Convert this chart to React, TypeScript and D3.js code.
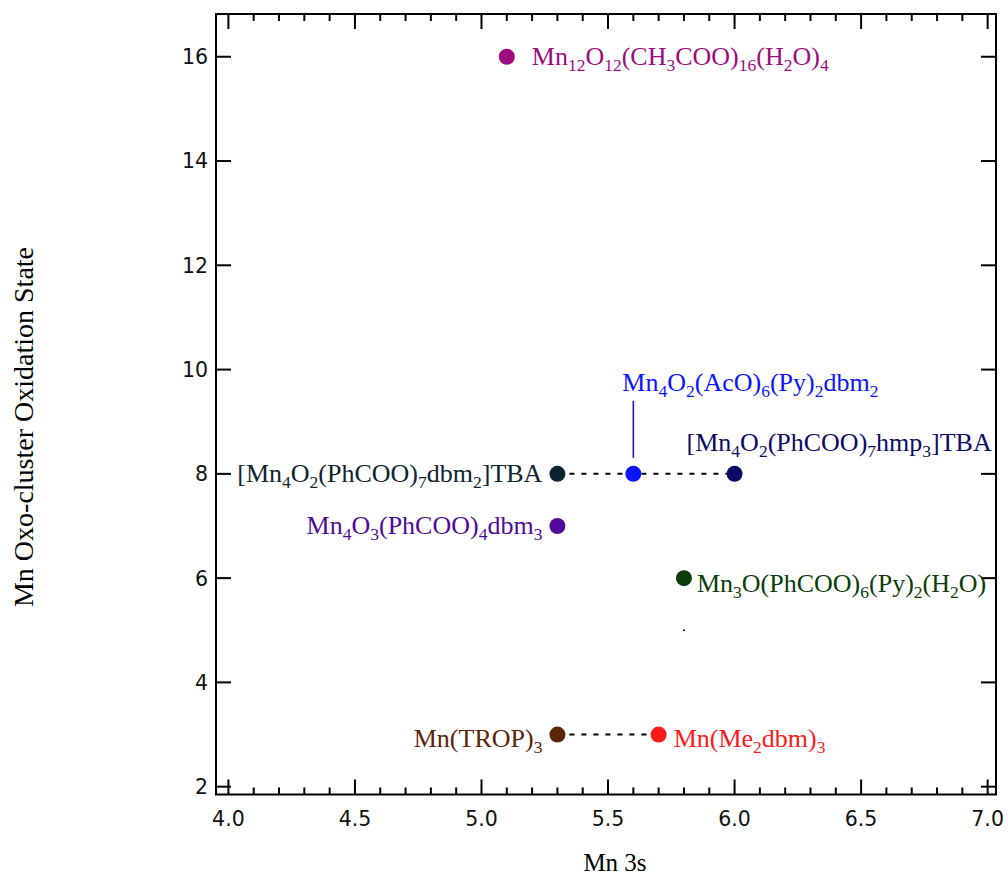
import React from 'react';
import * as d3 from 'd3';

// Mn 3s splitting vs. cluster oxidation state
const compounds = [
  'Mn_12O_12(CH_3COO)_16(H_2O)_4',
  'Mn_4O_2(AcO)_6(Py)_2dbm_2',
  '[Mn_4O_2(PhCOO)_7hmp_3]TBA',
  '[Mn_4O_2(PhCOO)_7dbm_2]TBA',
  'Mn_4O_3(PhCOO)_4dbm_3',
  'Mn_3O(PhCOO)_6(Py)_2(H_2O)',
  'Mn(TROP)_3',
  'Mn(Me_2dbm)_3',
];
const mn3s = [5.1, 5.6, 6.0, 5.3, 5.3, 5.8, 5.3, 5.7];
const oxState = [16, 8, 8, 8, 7, 6, 3, 3];
const colors = ['#9c0c7e', '#0a14ff', '#0b0b66', '#0d2430', '#52099a', '#0b3d0b', '#5e2408', '#ff1a1a'];

// dashed connectors: pairs of compound indices
const links = [[3, 2], [6, 7]];
// stray dot seen on the plot
const strayDot = [5.8, 5.0];

const xMajor = [4.0, 4.5, 5.0, 5.5, 6.0, 6.5, 7.0];
const yMajor = [2, 4, 6, 8, 10, 12, 14, 16];

// label placement relative to each marker
const labelPos = [
  { dx: 25, dy: 8, anchor: 'start' },
  { dx: -11, dy: -83, anchor: 'start' },
  { dx: -48, dy: -23, anchor: 'start' },
  { dx: -15, dy: 8, anchor: 'end' },
  { dx: -15, dy: 8, anchor: 'end' },
  { dx: 13, dy: 14, anchor: 'start' },
  { dx: -15, dy: 12, anchor: 'end' },
  { dx: 15, dy: 12, anchor: 'start' },
];

const W = 1008, H = 877;
const box = { left: 216, right: 996, top: 14, bottom: 794.5 };

function parseFormula(s: string) {
  const parts: { t: string; sub: boolean }[] = [];
  const re = /_(\d+)/g;
  let last = 0;
  let m;
  while ((m = re.exec(s)) !== null) {
    if (m.index > last) parts.push({ t: s.slice(last, m.index), sub: false });
    parts.push({ t: m[1], sub: true });
    last = m.index + m[0].length;
  }
  if (last < s.length) parts.push({ t: s.slice(last), sub: false });
  return parts;
}

function Formula({ text }: { text: string }) {
  const parts = parseFormula(text);
  let prevSub = false;
  return (
    <>
      {parts.map((p, i) => {
        let dy = 0;
        if (p.sub && !prevSub) dy = 6;
        if (!p.sub && prevSub) dy = -6;
        prevSub = p.sub;
        return (
          <tspan key={i} dy={dy} fontSize={p.sub ? 17.5 : 26}>
            {p.t}
          </tspan>
        );
      })}
    </>
  );
}

export default function App() {
  const x = d3.scaleLinear().domain([3.951, 7.033]).range([box.left, box.right]);
  const y = d3.scaleLinear().domain([1.85, 16.82]).range([box.bottom, box.top]);

  const xMinor = d3.range(40, 71).map(v => v / 10).filter(v => !xMajor.some(m => Math.abs(m - v) < 1e-6));
  const serif = '"Liberation Serif", "Times New Roman", serif';
  const sans = '"DejaVu Sans", sans-serif';

  return (
    <svg width={W} height={H} style={{ position: 'absolute', left: 0, top: 0, background: '#fff' }}>
      {/* ticks */}
      <g stroke="#000" strokeWidth={2}>
        {xMajor.map(v => (
          <g key={'xM' + v}>
            <line x1={x(v)} x2={x(v)} y1={box.bottom} y2={box.bottom - 15} />
            <line x1={x(v)} x2={x(v)} y1={box.top} y2={box.top + 15} />
          </g>
        ))}
        {xMinor.map(v => (
          <g key={'xm' + v}>
            <line x1={x(v)} x2={x(v)} y1={box.bottom} y2={box.bottom - 7} />
            <line x1={x(v)} x2={x(v)} y1={box.top} y2={box.top + 7} />
          </g>
        ))}
        {yMajor.map(v => (
          <g key={'yM' + v}>
            <line x1={box.left} x2={box.left + 15} y1={y(v)} y2={y(v)} />
            <line x1={box.right} x2={box.right - 15} y1={y(v)} y2={y(v)} />
          </g>
        ))}
      </g>
      <rect x={box.left} y={box.top} width={box.right - box.left} height={box.bottom - box.top}
        fill="none" stroke="#000" strokeWidth={2} />

      {/* tick labels */}
      <g fontFamily={sans} fontSize={20.5} fill="#111">
        {xMajor.map(v => (
          <text key={'xl' + v} x={x(v)} y={826} textAnchor="middle">{v.toFixed(1)}</text>
        ))}
        {yMajor.map(v => (
          <text key={'yl' + v} x={208} y={y(v)} dy="0.36em" textAnchor="end">{v}</text>
        ))}
      </g>

      {/* axis titles */}
      <text x={615} y={871} textAnchor="middle" fontFamily={serif} fontSize={25} fill="#000">Mn 3s</text>
      <text transform="translate(33,427) rotate(-90)" textAnchor="middle" fontFamily={serif} fontSize={28} fill="#000">
        Mn Oxo-cluster Oxidation State
      </text>

      {/* dashed connectors */}
      {links.map(([a, b], i) => (
        <line key={'lk' + i} x1={x(mn3s[a])} x2={x(mn3s[b])} y1={y(oxState[a])} y2={y(oxState[b])}
          stroke="#000" strokeWidth={2} strokeDasharray="5,7" />
      ))}

      {/* leader line for the AcO compound */}
      <line x1={x(mn3s[1])} x2={x(mn3s[1])} y1={y(oxState[1]) - 73} y2={y(oxState[1]) - 16}
        stroke="#1a1acc" strokeWidth={1.6} />

      {/* markers */}
      {compounds.map((c, i) => (
        <circle key={'pt' + i} cx={x(mn3s[i])} cy={y(oxState[i])} r={8} fill={colors[i]} />
      ))}
      <circle cx={x(strayDot[0])} cy={y(strayDot[1])} r={1} fill="#000" />

      {/* labels */}
      {compounds.map((c, i) => (
        <text key={'lb' + i} x={x(mn3s[i]) + labelPos[i].dx} y={y(oxState[i]) + labelPos[i].dy}
          textAnchor={labelPos[i].anchor} fontFamily={serif} fill={colors[i]}>
          <Formula text={c} />
        </text>
      ))}
    </svg>
  );
}
